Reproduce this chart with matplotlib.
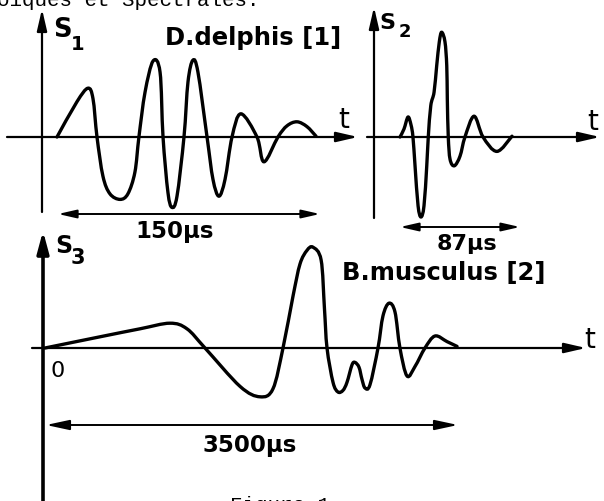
import numpy as np
import matplotlib.pyplot as plt
from matplotlib.path import Path
from matplotlib.patches import PathPatch

W, H = 604, 502

# S1 : D.delphis click, time in microseconds, relative amplitude
s1_t = [0, 11.4, 17.7, 20.6, 22.9, 26.3, 30.3, 36.1, 40.6, 44.6, 46.9, 50.4, 55.0, 59.0,
        60.7, 63.5, 65.8, 68.7, 72.7, 75.0, 77.8, 80.7, 85.9, 89.3, 92.7, 96.2, 100.2,
        105.3, 114.5, 118.5, 126.5, 131.7, 137.4, 143.1, 148.3]
s1_a = [0, 0.44, 0.61, 0.48, 0, -0.49, -0.71, -0.78, -0.71, -0.44, 0, 0.56, 0.95, 0.81,
        0, -0.69, -0.88, -0.74, 0, 0.69, 0.96, 0.81, 0, -0.53, -0.74, -0.53, 0,
        0.29, 0, -0.31, 0, 0.14, 0.19, 0.13, 0.01]

# S2
s2_t = [0, 2.9, 5.8, 8.0, 9.4, 10.9, 13.1, 15.2, 17.4, 19.4, 20.5, 22.3, 24.7, 26.6, 28.5,
        30.2, 32.6, 33.9, 34.3, 35.0, 36.3, 39.4, 43.5, 47.1, 53.7, 60.2,
        70.3, 81.2]
s2_a = [0, 0.10, 0.25, 0.15, 0, -0.36, -0.86, -1.0, -0.86, -0.36, 0, 0.39, 0.56, 0.89, 1.19,
        1.31, 1.19, 0.89, 0.48, 0, -0.28, -0.36, -0.24, 0, 0.26, 0,
        -0.18, 0.01]

# S3 : B.musculus
s3_t = [0, 466, 805, 1059, 1203, 1356, 1653, 1822, 1932, 2017, 2102, 2161, 2220,
        2271, 2340, 2368, 2390, 2441, 2483, 2525, 2559, 2602, 2627, 2661, 2686, 2712,
        2754, 2822, 2864, 2915, 2966, 3008, 3068, 3136, 3220, 3305,
        3407, 3492]
s3_a = [0, 0.14, 0.24, 0.31, 0.24, 0, -0.48, -0.61, -0.51, 0, 0.65, 1.05, 1.22,
        1.26, 1.10, 0.50, 0, -0.43, -0.55, -0.53, -0.43, -0.21, -0.18, -0.24, -0.39, -0.50,
        -0.46, 0, 0.40, 0.56, 0.45, 0, -0.35, -0.23, 0, 0.15,
        0.08, 0.02]


def smooth_path(t, a):
    p = np.column_stack([t, a]).astype(float)
    p = np.vstack([p[0], p, p[-1]])
    verts = [p[1]]
    codes = [Path.MOVETO]
    for i in range(1, len(p) - 2):
        c1 = p[i] + (p[i + 1] - p[i - 1]) / 6
        c2 = p[i + 1] - (p[i + 2] - p[i]) / 6
        verts += [c1, c2, p[i + 1]]
        codes += [Path.CURVE4] * 3
    return Path(verts, codes)


fig = plt.figure(figsize=(W / 100, H / 100), dpi=100)
ax = fig.add_axes([0, 0, 1, 1])
ax.set_xlim(0, W)
ax.set_ylim(H, 0)
ax.axis('off')


def panel(x0, y0, sx, sy):
    a = fig.add_axes([0, 0, 1, 1])
    a.set_xlim(-x0 / sx, (W - x0) / sx)
    a.set_ylim((y0 - H) / sy, y0 / sy)
    a.axis('off')
    return a


def arrow(x1, y1, x2, y2, style='-|>', lw=1.6, hl=1.3, hw=0.3):
    ax.annotate('', xy=(x2, y2), xytext=(x1, y1),
                arrowprops=dict(arrowstyle=f'{style},head_length={hl},head_width={hw}',
                                lw=lw, color='k', shrinkA=0, shrinkB=0, mutation_scale=10))


def label(x, y, s, size, weight='bold', **kw):
    ax.text(x, y, s, fontsize=size, fontweight=weight, ha='left', va='baseline', **kw)


# waveforms
for t, a, (x0, y0, sx) in [(s1_t, s1_a, (57, 138, 262 / 150)),
                           (s2_t, s2_a, (400, 138, 120 / 87)),
                           (s3_t, s3_a, (45, 349, 413 / 3500))]:
    pa = panel(x0, y0, sx, 80)
    pa.add_patch(PathPatch(smooth_path(t, a), fill=False, lw=2.4, color='k',
                           capstyle='round', joinstyle='round'))

# axes S1
arrow(42, 213, 42, 10)
arrow(7, 138, 358, 138)
# axes S2
arrow(374, 219, 374, 8)
arrow(367, 138, 600, 138)
# axes S3
arrow(43, 502, 43, 232, lw=2.6, hl=1.3, hw=0.35)
arrow(32, 349, 586, 349)

# durations
arrow(58, 215, 320, 215, style='<|-|>', lw=1.4, hl=1.1, hw=0.25)
arrow(400, 228, 520, 228, style='<|-|>', lw=1.4, hl=1.1, hw=0.25)
arrow(46, 426, 458, 426, style='<|-|>', lw=1.4, hl=1.4, hw=0.3)

# labels
label(53, 37, 'S', 18.5)
label(71, 50, '1', 14)
label(379, 29, 'S', 16)
label(399, 37, '2', 13)
label(55, 253, 'S', 17)
label(71, 264, '3', 15)
label(338, 128, 't', 20, weight='normal')
label(587, 130, 't', 20, weight='normal')
label(584, 348, 't', 20, weight='normal')
label(165, 45, 'D.delphis [1]', 17.5)
label(135, 238, '150µs', 16.5)
label(437, 250, '87µs', 16)
label(342, 280, 'B.musculus [2]', 17.5)
label(50, 377, '0', 16, weight='normal')
label(202, 452, '3500µs', 16.5)

# typed text of the page, cut by the page edges as in the scan
label(-3, 6, 'oiques et Spectrales.', 15, weight='normal', family='Liberation Mono')
label(230, 511, 'Figure 1', 15, weight='normal', family='Liberation Mono')

fig.savefig('out.png', dpi=100)
